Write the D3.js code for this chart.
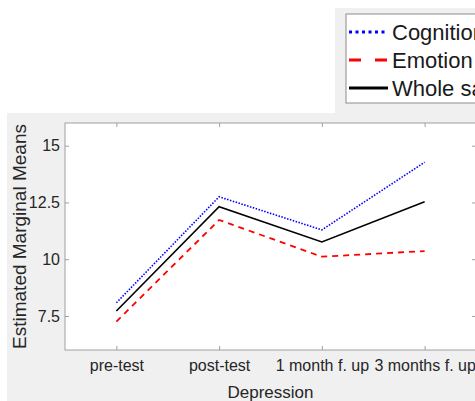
<!DOCTYPE html>
<html>
<head>
<meta charset="utf-8">
<script src="https://cdn.jsdelivr.net/npm/d3@7"></script>
<style>
  body { margin: 0; background: #fff; overflow: hidden; }
  svg { display: block; font-family: Arial, "Liberation Sans", sans-serif; }
</style>
</head>
<body>
<div id="chart"></div>
<script>
/* DATA */
const timepoints = ["pre-test", "post-test", "1 month f. up", "3 months f. up"];
const cognition = [8.08, 12.75, 11.29, 14.27];
const emotion = [7.25, 11.73, 10.11, 10.36];
const whole = [7.72, 12.31, 10.76, 12.53];
const yTicks = [7.5, 10, 12.5, 15];
const seriesNames = ["Cognition", "Emotion", "Whole sample"];

const W = 475, H = 401;
const plot = {left: 65, right: 476, top: 123, bottom: 350};

const svg = d3.select("#chart").append("svg")
    .attr("width", W)
    .attr("height", H);

// figure backgrounds
svg.append("rect")
    .attr("x", 7).attr("y", 113)
    .attr("width", W).attr("height", H)
    .attr("fill", "#f0f0f0");
svg.append("rect")
    .attr("x", 335).attr("y", 8)
    .attr("width", 200).attr("height", 106)
    .attr("fill", "#f0f0f0");

const xScale = d3.scaleLinear()
    .domain([-0.5, timepoints.length - 0.5])
    .range([plot.left, plot.right]);

const yScale = d3.scaleLinear()
    .domain([6, 16])
    .range([plot.bottom, plot.top]);

svg.append("rect")
    .attr("x", plot.left).attr("y", plot.top)
    .attr("width", plot.right - plot.left).attr("height", plot.bottom - plot.top)
    .attr("fill", "#fff")
    .attr("stroke", "#a0a0a0")
    .attr("stroke-width", 1);

// axes (ticks pointing inward, MATLAB style)
const xIdx = timepoints.map((d, i) => i);
const xAxis = svg.append("g")
    .attr("transform", "translate(0," + plot.bottom + ")")
    .call(d3.axisBottom(xScale).tickValues(xIdx).tickSize(-4).tickPadding(10)
      .tickFormat(i => timepoints[i]));
const xAxisTop = svg.append("g")
    .attr("transform", "translate(0," + plot.top + ")")
    .call(d3.axisTop(xScale).tickValues(xIdx).tickSize(-4).tickFormat(""));
const yAxis = svg.append("g")
    .attr("transform", "translate(" + plot.left + ",0)")
    .call(d3.axisLeft(yScale).tickValues(yTicks).tickSize(-4).tickPadding(5)
      .tickFormat(d => String(d)));
const yAxisRight = svg.append("g")
    .attr("transform", "translate(" + plot.right + ",0)")
    .call(d3.axisRight(yScale).tickValues(yTicks).tickSize(-4).tickFormat(""));

[xAxis, xAxisTop, yAxis, yAxisRight].forEach(a => {
  a.select(".domain").remove();
  a.selectAll(".tick line").attr("stroke", "#a0a0a0");
  a.selectAll("text")
    .style("font-size", "16px")
    .attr("fill", "#262626");
});
xAxis.selectAll("text").attr("dy", "0.71em");

// lines
const line = d3.line()
    .x((d, i) => xScale(i))
    .y(d => yScale(d));

const styles = [
  {values: cognition, color: "#0000ff", dash: "1.5,1.5", width: 1.6},
  {values: emotion, color: "#ff0000", dash: "6,5", width: 1.8},
  {values: whole, color: "#000000", dash: null, width: 1.6}
];

styles.forEach(s => {
  svg.append("path")
    .datum(s.values)
    .attr("fill", "none")
    .attr("stroke", s.color)
    .attr("stroke-width", s.width)
    .attr("stroke-dasharray", s.dash)
    .attr("d", line);
});

// axis labels
svg.append("text")
    .attr("x", (plot.left + plot.right) / 2)
    .attr("y", 398)
    .attr("text-anchor", "middle")
    .style("font-size", "17px")
    .attr("fill", "#262626")
    .text("Depression");

svg.append("text")
    .attr("transform", "translate(26," + ((plot.top + plot.bottom) / 2) + ") rotate(-90)")
    .attr("text-anchor", "middle")
    .style("font-size", "19px")
    .attr("fill", "#262626")
    .text("Estimated Marginal Means");

// legend
const legend = svg.append("g");
legend.append("rect")
    .attr("x", 346).attr("y", 14)
    .attr("width", 200).attr("height", 89)
    .attr("fill", "#fff")
    .attr("stroke", "#8c8c8c");

const legendDash = ["3,3.5", "12,14", null];
styles.forEach((s, i) => {
  const y = 32 + i * 28;
  legend.append("line")
    .attr("x1", 349).attr("x2", 388)
    .attr("y1", y).attr("y2", y)
    .attr("stroke", s.color)
    .attr("stroke-width", 3)
    .attr("stroke-dasharray", legendDash[i]);
  legend.append("text")
    .attr("x", 392).attr("y", y)
    .attr("dy", "0.36em")
    .style("font-size", "22px")
    .attr("fill", "#1a1a1a")
    .text(seriesNames[i]);
});
</script>
</body>
</html>
